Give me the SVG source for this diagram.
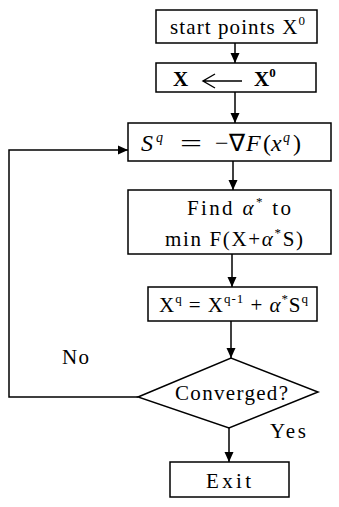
<svg xmlns="http://www.w3.org/2000/svg" width="339" height="507" viewBox="0 0 339 507">
<style>
.box{fill:#fff;stroke:#000;stroke-width:1.5}
.ln{fill:none;stroke:#000;stroke-width:1.5}
text{font-family:"Liberation Serif","Times New Roman",serif;font-size:21px;fill:#000}
.it{font-style:italic}
.sup{font-size:13px}
.m{font-size:24px}
.ms{font-size:14px;font-style:italic}
</style>
<defs>
<marker id="ahb" viewBox="0 0 10 10" refX="10" refY="5" markerWidth="10" markerHeight="10" markerUnits="userSpaceOnUse" orient="auto">
<path d="M0,0.5 L10,5 L0,9.5 z" fill="#000"/>
</marker>
</defs>
<rect width="339" height="507" fill="#fff"/>
<g id="connectors">
<line class="ln" x1="235" y1="43" x2="235" y2="63" marker-end="url(#ahb)"/>
<line class="ln" x1="235" y1="92" x2="235" y2="123" marker-end="url(#ahb)"/>
<line class="ln" x1="233" y1="161" x2="233" y2="190" marker-end="url(#ahb)"/>
<line class="ln" x1="232" y1="254" x2="232" y2="287" marker-end="url(#ahb)"/>
<line class="ln" x1="231" y1="321" x2="231" y2="358" marker-end="url(#ahb)"/>
<polyline class="ln" points="138,397 9,397 9,150 128,150" marker-end="url(#ahb)"/>
<line class="ln" x1="229" y1="428" x2="229" y2="462" marker-end="url(#ahb)"/>
<text x="62" y="364" textLength="27" lengthAdjust="spacing">No</text>
<text x="270" y="438" textLength="36" lengthAdjust="spacing">Yes</text>
</g>
<g id="start">
<rect class="box" x="156" y="10" width="161" height="33"/>
<text x="170" y="34" textLength="135" lengthAdjust="spacing">start points X<tspan class="sup" dy="-9">0</tspan></text>
</g>
<g id="init">
<rect class="box" x="156" y="63" width="160" height="29"/>
<text x="173" y="86" font-weight="bold">X</text>
<path d="M203,81 L242,81 M215,74 L203,81 L215,88" fill="none" stroke="#000" stroke-width="1.4"/>
<text x="254" y="86" font-weight="bold">X<tspan class="sup" dy="-9">0</tspan></text>
</g>
<g id="direction">
<rect class="box" x="128" y="123" width="203" height="38"/>
<text class="m" y="151"><tspan class="it" x="141">S</tspan><tspan class="ms" x="156" dy="-9">q</tspan><tspan x="180" dy="9" textLength="22" lengthAdjust="spacingAndGlyphs">=</tspan><tspan x="215">−∇</tspan><tspan class="it" x="246">F</tspan><tspan x="263">(</tspan><tspan class="it" x="271">x</tspan><tspan class="ms" x="283" dy="-9">q</tspan><tspan x="293" dy="9">)</tspan></text>
</g>
<g id="linesearch">
<rect class="box" x="128" y="190" width="203" height="64"/>
<text x="187" y="215" textLength="104" lengthAdjust="spacing">Find <tspan class="it">α</tspan><tspan class="sup" dy="-9">*</tspan><tspan dy="9"> to</tspan></text>
<text x="165" y="246" textLength="138" lengthAdjust="spacing">min F(X+<tspan class="it">α</tspan><tspan class="sup" dy="-9">*</tspan><tspan dy="9">S)</tspan></text>
</g>
<g id="update">
<rect class="box" x="148" y="287" width="169" height="34"/>
<text x="159" y="312" textLength="149" lengthAdjust="spacing">X<tspan class="sup" dy="-9">q</tspan><tspan dy="9"> = X</tspan><tspan class="sup" dy="-9">q-1</tspan><tspan dy="9"> + </tspan><tspan class="it">α</tspan><tspan class="sup" dy="-9">*</tspan><tspan dy="9">S</tspan><tspan class="sup" dy="-9">q</tspan></text>
</g>
<g id="converged">
<polygon class="box" points="138,397 231,358 318,392 229,428"/>
<text x="175" y="400" textLength="113" lengthAdjust="spacing">Converged?</text>
</g>
<g id="exit">
<rect class="box" x="170" y="462" width="119" height="35"/>
<text x="206" y="488" font-size="22" textLength="45" lengthAdjust="spacing">Exit</text>
</g>
</svg>
